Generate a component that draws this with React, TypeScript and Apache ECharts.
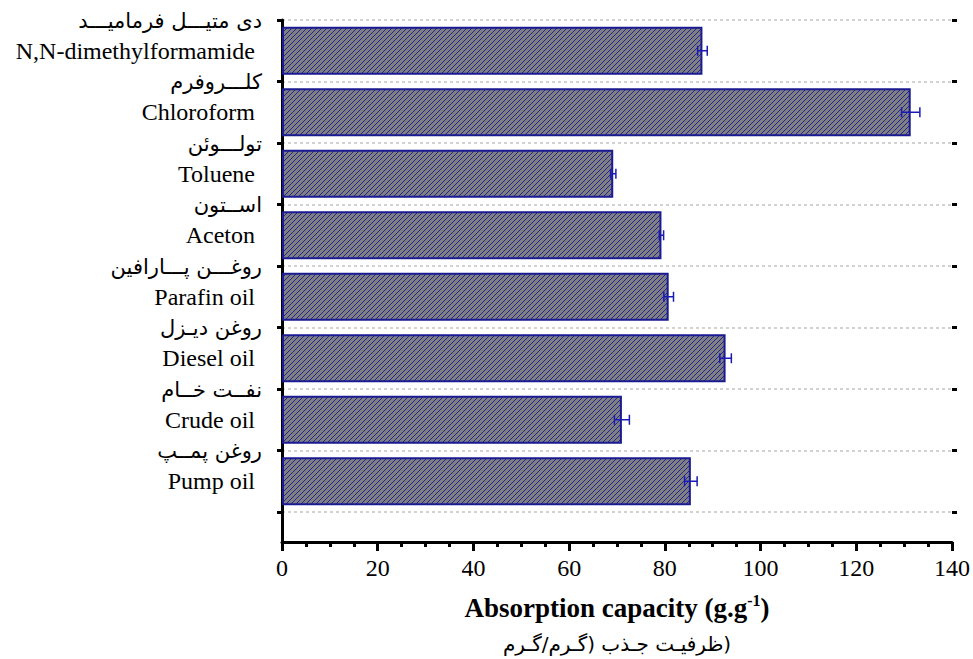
import React, { useEffect, useRef } from "react";
import * as echarts from "echarts";

const categories = [
  "N,N-dimethylformamide",
  "Chloroform",
  "Toluene",
  "Aceton",
  "Parafin oil",
  "Diesel oil",
  "Crude oil",
  "Pump oil",
];
const persianLabels = [
  "دی متیـــل فرمامیـــد",
  "کلـــروفرم",
  "تولـــوئن",
  "اســتون",
  "روغـــن پـــارافین",
  "روغن دیـزل",
  "نفــت خــام",
  "روغن پمــپ",
];
const capacity = [87.2, 130.4, 68.7, 78.7, 80.2, 92.0, 70.5, 84.8];
const errors = [1.0, 1.9, 0.55, 0.45, 1.0, 1.2, 1.55, 1.3];
const xTicks = { min: 0, max: 140, interval: 20 };
const titleEn = "Absorption capacity (g.g";
const titleSup = "-1";
const titleFa = "(ظرفیـت جـذب (گـرم/گـرم";

const SERIF = "'Liberation Serif', 'Times New Roman', serif";
const FA = "'DejaVu Sans', sans-serif";
const RLE = "\u202B";
const PDF = "\u202C";

export default function App() {
  const ref = useRef<HTMLDivElement>(null);
  useEffect(() => {
    if (!ref.current) return;
    const chart = echarts.init(ref.current, undefined, { renderer: "svg" });

    const c = document.createElement("canvas");
    c.width = 5;
    c.height = 5;
    const ctx = c.getContext("2d")!;
    ctx.fillStyle = "#808080";
    ctx.fillRect(0, 0, 5, 5);
    ctx.strokeStyle = "#18189c";
    ctx.lineWidth = 0.9;
    ctx.beginPath();
    ctx.moveTo(-1, 1);
    ctx.lineTo(1, -1);
    ctx.moveTo(-1, 6);
    ctx.lineTo(6, -1);
    ctx.moveTo(4, 6);
    ctx.lineTo(6, 4);
    ctx.stroke();

    const gridL = 282;
    const gridR = 16;

    chart.setOption({
      animation: false,
      grid: [
        { left: gridL, right: gridR, top: 20, height: 492 },
        { left: gridL, right: gridR, top: 20, bottom: 116 },
      ],
      xAxis: [
        { gridIndex: 0, type: "value", ...xTicks, show: false },
        {
          gridIndex: 1,
          type: "value",
          ...xTicks,
          axisLine: { show: true, lineStyle: { color: "#000", width: 3 } },
          axisTick: { show: true, length: 9, lineStyle: { color: "#000", width: 3 } },
          minorTick: { show: true, splitNumber: 4, length: 5, lineStyle: { color: "#000", width: 3 } },
          splitLine: { show: false },
          axisLabel: { color: "#000", fontFamily: SERIF, fontSize: 24, margin: 14 },
          name: `{b|${titleEn}}{s|${titleSup}}{b|)}\n{fa|${RLE}${titleFa}${PDF}}`,
          nameLocation: "middle",
          nameGap: 50,
          nameTextStyle: {
            rich: {
              b: { fontFamily: SERIF, fontWeight: "bold", fontSize: 27, lineHeight: 32, color: "#000" },
              s: { fontFamily: SERIF, fontWeight: "bold", fontSize: 16, lineHeight: 16, verticalAlign: "top", color: "#000" },
              fa: { fontFamily: FA, fontSize: 20, lineHeight: 40, color: "#000" },
            },
          },
        },
      ],
      yAxis: [
        {
          gridIndex: 0,
          type: "category",
          inverse: true,
          data: categories,
          axisLine: { show: false },
          axisTick: { show: true, length: 5, lineStyle: { color: "#000", width: 3 } },
          splitLine: { show: true, lineStyle: { color: "#c4c4c4", width: 1.5, type: [3, 3] } },
          axisLabel: {
            margin: 20,
            padding: [0, 0, 30, 0],
            formatter: (value: string, index: number) => `{fa|${persianLabels[index]}}\n{en|${value}}`,
            rich: {
              fa: { fontFamily: FA, fontSize: 21, lineHeight: 30, color: "#000" },
              en: { fontFamily: SERIF, fontSize: 24, lineHeight: 30, color: "#000", padding: [0, 7, 0, 0] },
            },
          },
        },
        {
          gridIndex: 1,
          type: "value",
          min: 0,
          max: 1,
          axisLine: { show: true, lineStyle: { color: "#000", width: 3 } },
          axisTick: { show: false },
          axisLabel: { show: false },
          splitLine: { show: false },
        },
        {
          gridIndex: 0,
          type: "category",
          inverse: true,
          data: categories,
          axisLine: { show: false },
          axisTick: { show: true, inside: true, length: 5, lineStyle: { color: "#000", width: 3 } },
          axisLabel: { show: false },
          splitLine: { show: false },
        },
      ],
      series: [
        {
          type: "bar",
          xAxisIndex: 0,
          yAxisIndex: 0,
          data: capacity,
          barWidth: "78%",
          itemStyle: {
            color: { image: c, repeat: "repeat" },
            borderColor: "#1a1a92",
            borderWidth: 2,
          },
        },
        {
          type: "custom",
          xAxisIndex: 0,
          yAxisIndex: 0,
          data: capacity.map((v, i) => [v, errors[i], i]),
          encode: { x: 0, y: 2 },
          z: 5,
          renderItem: (params: any, api: any) => {
            const v = api.value(0);
            const e = api.value(1);
            const idx = api.value(2);
            const a = api.coord([v - e, idx]);
            const b = api.coord([v + e, idx]);
            const h = 5;
            const st = { stroke: "#1a1ab4", lineWidth: 1.5 };
            return {
              type: "group",
              children: [
                { type: "line", shape: { x1: a[0], y1: a[1], x2: b[0], y2: b[1] }, style: st },
                { type: "line", shape: { x1: a[0], y1: a[1] - h, x2: a[0], y2: a[1] + h }, style: st },
                { type: "line", shape: { x1: b[0], y1: b[1] - h, x2: b[0], y2: b[1] + h }, style: st },
              ],
            };
          },
        },
      ],
    });
    return () => chart.dispose();
  }, []);
  return (
    <div
      ref={ref}
      style={{ position: "absolute", left: 0, top: 0, width: 973, height: 659, background: "#fff" }}
    />
  );
}
